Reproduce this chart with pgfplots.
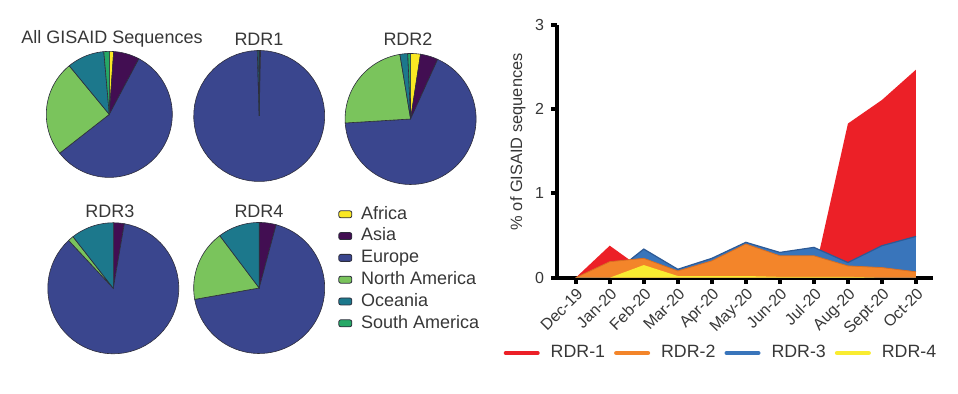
\documentclass[border=0pt]{standalone}
\usepackage{pgfplots}
\usepackage{pgfplotstable}
\pgfplotsset{compat=1.18}
\usepackage{fontspec}
\setmainfont{Liberation Sans}
\definecolor{txt}{RGB}{55,55,55}
\definecolor{rdr1}{RGB}{236,32,39}
\definecolor{rdr2}{RGB}{243,133,42}
\definecolor{rdr3}{RGB}{57,117,187}
\definecolor{rdr3d}{RGB}{45,90,150}
\definecolor{rdr2d}{RGB}{215,110,35}
\definecolor{rdr4}{RGB}{249,236,49}
\definecolor{cAf}{RGB}{250,232,35}
\definecolor{cAs}{RGB}{66,14,82}
\definecolor{cEu}{RGB}{58,70,142}
\definecolor{cNA}{RGB}{122,196,92}
\definecolor{cOc}{RGB}{28,120,140}
\definecolor{cSA}{RGB}{38,168,102}
\definecolor{edge}{RGB}{45,45,60}

% month index, RDR-1, RDR-2, RDR-3, RDR-4 (% of GISAID sequences)
\pgfplotstableread{
x  r1    r2    r3    r4
0  0     0     0     0
1  0.38  0.19  0.02  0.00
2  0.09  0.23  0.34  0.15
3  0.04  0.08  0.10  0.02
4  0.03  0.20  0.23  0.02
5  0.03  0.40  0.42  0.02
6  0.02  0.26  0.30  0.01
7  0.02  0.26  0.36  0.01
8  1.83  0.14  0.18  0.01
9  2.11  0.12  0.38  0.00
10 2.47  0.07  0.49  0.00
}\rdrdata

% pie slice: colour, start angle, end angle (shares converted to degrees)
\newcommand{\pieslice}[3]{\addplot[fill=#1, draw=edge, line width=0.3pt, domain=#2:#3, samples=60] ({cos(x)},{sin(x)}) -- (axis cs:0,0) -- cycle;}

\pgfplotsset{pie/.style={hide axis, scale only axis, width=#1, height=#1,
  xmin=-1, xmax=1, ymin=-1, ymax=1, anchor=center, clip=false}}

\begin{document}
\begin{tikzpicture}
\useasboundingbox (0,0) rectangle (479pt,197pt);

% ---------- pies ----------
\begin{axis}[pie=63pt, at={(54.65pt,139.8pt)}]
\pieslice{cAf}{86}{90}
\pieslice{cAs}{62}{86}
\pieslice{cEu}{-142}{62}
\pieslice{cNA}{-230.5}{-142}
\pieslice{cOc}{-265}{-230.5}
\pieslice{cSA}{-270}{-265}
\end{axis}

\begin{axis}[pie=65.5pt, at={(129.6pt,139pt)}]
\pieslice{cAs}{88.8}{90}
\pieslice{cEu}{-268.3}{88.8}
\pieslice{cOc}{-269.8}{-268.3}
\pieslice{cSA}{-270}{-269.8}
\end{axis}

\begin{axis}[pie=65.5pt, at={(205.3pt,137.5pt)}]
\pieslice{cAf}{81.3}{90}
\pieslice{cAs}{65.6}{81.3}
\pieslice{cEu}{-176.5}{65.6}
\pieslice{cNA}{-260.6}{-176.5}
\pieslice{cOc}{-267.5}{-260.6}
\pieslice{cSA}{-270}{-267.5}
\end{axis}

\begin{axis}[pie=65.5pt, at={(56.65pt,52.85pt)}]
\pieslice{cAs}{80.3}{90}
\pieslice{cEu}{-227}{80.3}
\pieslice{cNA}{-232}{-227}
\pieslice{cOc}{-270}{-232}
\end{axis}

\begin{axis}[pie=65.5pt, at={(129.6pt,53pt)}]
\pieslice{cAs}{75}{90}
\pieslice{cEu}{-170}{75}
\pieslice{cNA}{-233}{-170}
\pieslice{cOc}{-270}{-233}
\end{axis}

\begin{scope}[every node/.style={text=txt, font=\fontsize{9}{10}\selectfont, inner sep=0pt}]
\node at (56pt,177.4pt) {All GISAID Sequences};
\node at (129.5pt,177.4pt) {RDR1};
\node at (204pt,177.4pt) {RDR2};
\node at (55pt,91.5pt) {RDR3};
\node at (129.5pt,91.5pt) {RDR4};
\end{scope}

% ---------- pie legend ----------
\begin{axis}[at={(169pt,95.5pt)}, anchor=north west, hide axis, scale only axis,
  width=10pt, height=10pt, xmin=0, xmax=1, ymin=0, ymax=1,
  legend cell align=left,
  legend style={at={(0,1)}, anchor=north west, draw=none, fill=none,
    font=\fontsize{9}{10}\selectfont, row sep=0pt, inner sep=0pt,
    nodes={inner sep=1pt, text height=6.9pt, text depth=2pt, text=txt},
    /tikz/every odd column/.append style={column sep=3.5pt}},
  legend image code/.code={\draw[#1, rounded corners=1pt, line width=0.4pt] (0pt,-1.75pt) rectangle (6.5pt,1.75pt);}]
\addlegendimage{fill=cAf, draw=edge}\addlegendentry{Africa}
\addlegendimage{fill=cAs, draw=edge}\addlegendentry{Asia}
\addlegendimage{fill=cEu, draw=edge}\addlegendentry{Europe}
\addlegendimage{fill=cNA, draw=edge}\addlegendentry{North America}
\addlegendimage{fill=cOc, draw=edge}\addlegendentry{Oceania}
\addlegendimage{fill=cSA, draw=edge}\addlegendentry{South America}
\end{axis}

% ---------- area chart ----------
\begin{axis}[at={(278.5pt,58.15pt)}, anchor=south west,
  scale only axis, width=188pt, height=126.35pt,
  xmin=-0.55, xmax=10.5, ymin=0, ymax=3,
  axis lines*=left,
  axis line style={line width=2pt, -},
  xtick={0,...,10},
  xticklabels={Dec-19,Jan-20,Feb-20,Mar-20,Apr-20,May-20,Jun-20,Jul-20,Aug-20,Sept-20,Oct-20},
  ytick={0,1,2,3},
  tick style={line width=2pt, black},
  major tick length=3pt,
  tick align=outside,
  /pgf/number format/assume math mode=true,
  x tick label style={rotate=45, anchor=north east, font=\fontsize{8}{9}\selectfont, text=txt, inner sep=1pt},
  y tick label style={font=\fontsize{8}{9}\selectfont, text=txt},
  ylabel={\% of GISAID sequences},
  every axis y label/.style={at={(axis description cs:-0.1037,0.538)}, rotate=90, anchor=center,
    font=\fontsize{8.2}{9}\selectfont, text=txt},
  legend columns=4,
  legend style={at={(0.4335,-0.298)}, anchor=center, draw=none, fill=none,
    font=\fontsize{8.9}{10}\selectfont, text=txt, inner sep=0pt,
    nodes={inner sep=0pt},
    /tikz/every odd column/.append style={column sep=5.5pt},
    /tikz/every even column/.append style={column sep=4.5pt}},
  legend image code/.code={\draw[#1, line width=2pt, line cap=round] (1pt,0pt) -- (17pt,0pt);}
]
\addplot[fill=rdr1, draw=none, forget plot] table[x=x, y=r1] {\rdrdata} \closedcycle;
\addplot[fill=rdr3, draw=none, forget plot] table[x=x, y=r3] {\rdrdata} \closedcycle;
\addplot[draw=rdr3d, line width=0.6pt, forget plot] table[x=x, y=r3] {\rdrdata};
\addplot[fill=rdr2, draw=none, forget plot] table[x=x, y=r2] {\rdrdata} \closedcycle;
\addplot[draw=rdr2d, line width=0.4pt, forget plot] table[x=x, y=r2] {\rdrdata};
\addplot[fill=rdr4, draw=none, forget plot] table[x=x, y=r4] {\rdrdata} \closedcycle;
\addlegendimage{draw=rdr1}\addlegendentry{RDR-1}
\addlegendimage{draw=rdr2}\addlegendentry{RDR-2}
\addlegendimage{draw=rdr3}\addlegendentry{RDR-3}
\addlegendimage{draw=rdr4}\addlegendentry{RDR-4}
\end{axis}
\end{tikzpicture}
\end{document}
